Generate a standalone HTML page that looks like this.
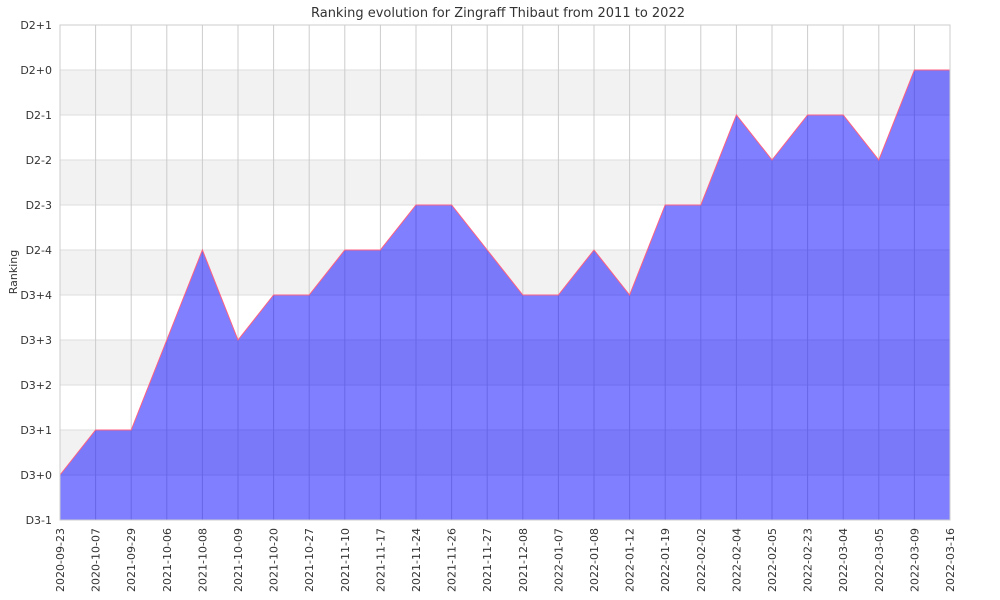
<!DOCTYPE html>
<html><head><meta charset="utf-8"><style>
body{margin:0;background:#fff;}
svg{display:block;font-family:"DejaVu Sans","Liberation Sans",sans-serif;}
</style></head><body>
<svg id="chart" width="1000" height="600">
<text x="498" y="17" text-anchor="middle" font-size="13" fill="#333">Ranking evolution for Zingraff Thibaut from 2011 to 2022</text>
<text transform="translate(17,272) rotate(-90)" text-anchor="middle" font-size="11" fill="#333">Ranking</text>
<g id="bands"></g><g id="grid"></g><g id="area"></g><g id="labels"></g>
</svg>
<script>
const dates=["2020-09-23","2020-10-07","2021-09-29","2021-10-06","2021-10-08","2021-10-09","2021-10-20","2021-10-27","2021-11-10","2021-11-17","2021-11-24","2021-11-26","2021-11-27","2021-12-08","2022-01-07","2022-01-08","2022-01-12","2022-01-19","2022-02-02","2022-02-04","2022-02-05","2022-02-23","2022-03-04","2022-03-05","2022-03-09","2022-03-16"];
const ranks=[1,2,2,4,6,4,5,5,6,6,7,7,6,5,5,6,5,7,7,9,8,9,9,8,10,10];
const yTicks=["D3-1","D3+0","D3+1","D3+2","D3+3","D3+4","D2-4","D2-3","D2-2","D2-1","D2+0","D2+1"];
const L=60,R=950,T=25,B=520,NS="http://www.w3.org/2000/svg";
const x=i=>L+(R-L)*i/(dates.length-1);
const y=v=>B-(B-T)*v/(yTicks.length-1);
function mk(tag,attrs,parent){const e=document.createElementNS(NS,tag);for(const k in attrs)e.setAttribute(k,attrs[k]);document.getElementById(parent).appendChild(e);return e;}
for(let v=0;v<yTicks.length-1;v++){
  if(v%2===1){const r=mk('rect',{x:L,y:y(v+1),width:R-L,height:y(v)-y(v+1),fill:'#f2f2f2'},'bands');
  
  }
}
yTicks.forEach((t,v)=>{
  const l=mk('line',{x1:L,x2:R,y1:y(v),y2:y(v),stroke:'#ddd','stroke-width':1},'grid');
  
  
  const tx=mk('text',{x:L-8,y:y(v)+4,'text-anchor':'end','font-size':11,fill:'#333'},'labels');
  tx.textContent=t;
  
  
});
dates.forEach((d,i)=>{
  const l=mk('line',{x1:x(i),x2:x(i),y1:T,y2:B,stroke:'#ccc','stroke-width':1},'grid');
  
  
  const tx=mk('text',{transform:`translate(${x(i)+4},${B+8}) rotate(-90)`,'text-anchor':'end','font-size':11,fill:'#333'},'labels');
  tx.textContent=d;
  
  
});
let p=`M${x(0)},${B}`;ranks.forEach((v,i)=>p+=` L${x(i)},${y(v)}`);p+=` L${x(ranks.length-1)},${B} Z`;
const a=mk('path',{d:p,fill:'rgba(0,0,255,0.5)'},'area');


let lp='';ranks.forEach((v,i)=>lp+=(i?' L':'M')+x(i)+','+y(v));
const ln=mk('path',{d:lp,fill:'none',stroke:'#ff6080','stroke-width':1},'area');


const ax=mk('rect',{x:L,y:T,width:R-L,height:B-T,fill:'none',stroke:'#ccc'},'area');


</script>
</body></html>
